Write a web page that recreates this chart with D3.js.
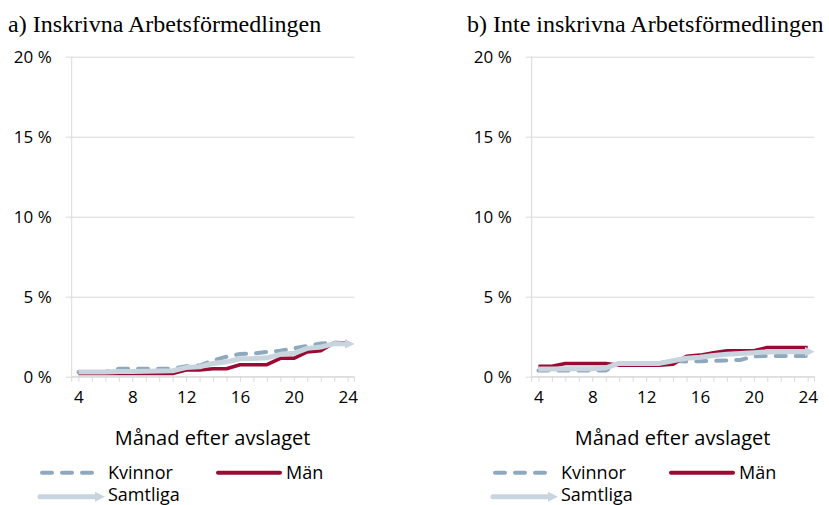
<!DOCTYPE html>
<html><head><meta charset="utf-8">
<script src="https://cdn.jsdelivr.net/npm/d3@7"></script>
<style>body{margin:0;background:#fff}svg{display:block}</style>
</head><body><svg id="c" width="829" height="505"></svg>
<script>
// ---- data ----
const months = [4,5,6,7,8,9,10,11,12,13,14,15,16,17,18,19,20,21,22,23,24];
const xTickLabels = [4,8,12,16,20,24];
const yTickValues = [0,5,10,15,20];
const panelTitles = ["a) Inskrivna Arbetsförmedlingen","b) Inte inskrivna Arbetsförmedlingen"];
const seriesNames = ["Kvinnor","Män","Samtliga"];
const xAxisTitle = "Månad efter avslaget";
// panel a (percent)
const aKvinnor  = [0.30,0.30,0.30,0.50,0.50,0.50,0.50,0.50,0.65,0.70,1.02,1.25,1.42,1.45,1.55,1.62,1.77,1.93,2.07,2.15,2.05];
const aMan      = [0.20,0.20,0.20,0.20,0.20,0.20,0.20,0.20,0.42,0.42,0.50,0.50,0.75,0.75,0.75,1.15,1.15,1.55,1.62,2.12,2.12];
const aSamtliga = [0.30,0.30,0.30,0.32,0.33,0.34,0.35,0.37,0.57,0.62,0.83,0.93,1.12,1.14,1.18,1.40,1.46,1.77,1.85,2.07,2.05];
// panel b (percent)
const bKvinnor  = [0.38,0.38,0.38,0.38,0.38,0.38,0.85,0.85,0.85,0.85,1.00,0.95,0.97,1.00,1.02,1.05,1.27,1.30,1.30,1.30,1.30];
const bMan      = [0.65,0.65,0.83,0.83,0.83,0.83,0.72,0.72,0.72,0.72,0.78,1.28,1.35,1.50,1.62,1.62,1.62,1.83,1.83,1.83,1.83];
const bSamtliga = [0.48,0.48,0.50,0.50,0.50,0.55,0.83,0.83,0.83,0.83,1.00,1.15,1.22,1.33,1.40,1.45,1.50,1.55,1.56,1.56,1.56];

const colors = {Kvinnor:"#8EA9BD", "Män":"#9A0B34", Samtliga:"#C8D5DF"};
const FONT = "'Open Sans', 'Noto Sans', sans-serif";

const svg = d3.select("#c");
const defs = svg.append("defs");
defs.append("marker").attr("id","arrow").attr("markerUnits","userSpaceOnUse")
  .attr("viewBox","0 0 10 10").attr("refX",3).attr("refY",5)
  .attr("markerWidth",10).attr("markerHeight",10).attr("orient","auto")
  .append("path").attr("d","M0,0 L10,5 L0,10 Z").attr("fill",colors.Samtliga);

const panels = [
  {left:71.7, titleX:8, data:{Kvinnor:aKvinnor, "Män":aMan, Samtliga:aSamtliga}, legendX:40},
  {left:531.7, titleX:467, data:{Kvinnor:bKvinnor, "Män":bMan, Samtliga:bSamtliga}, legendX:493}
];
const W = 282.7, plotTop = 56.7, plotBottom = 376.7;

panels.forEach((p, i) => {
  const g = svg.append("g");
  const x = d3.scalePoint().domain(months).range([p.left, p.left + W]).padding(0.5);
  const y = d3.scaleLinear().domain([0, 20]).range([plotBottom, plotTop]);

  g.append("text").attr("x", p.titleX).attr("y", 32)
    .attr("font-family","'Liberation Serif','Times New Roman',serif").attr("font-size",24)
    .attr("fill","#000").text(panelTitles[i]);

  // y axis with gridlines
  const ya = g.append("g").attr("transform",`translate(${p.left},0)`)
    .call(d3.axisLeft(y).tickValues(yTickValues).tickSize(-W).tickPadding(20)
      .tickFormat(d => d + " %"));
  ya.select(".domain").remove();
  ya.selectAll(".tick line").attr("x1",-6).attr("stroke","#D9D9D9");
  ya.selectAll(".tick text").attr("font-family",FONT).attr("font-size",17).attr("fill","#000").attr("dy","0.36em");
  g.append("line").attr("x1",p.left).attr("x2",p.left).attr("y1",plotTop).attr("y2",plotBottom+5)
    .attr("stroke","#D9D9D9");

  // x axis
  const xa = g.append("g").attr("transform",`translate(0,${plotBottom})`)
    .call(d3.axisBottom(x).tickValues(months).tickSize(5).tickSizeOuter(0).tickPadding(9)
      .tickFormat(d => xTickLabels.includes(d) ? d : ""));
  xa.select(".domain").remove();
  xa.selectAll(".tick line").attr("stroke","#D9D9D9");
  xa.selectAll(".tick text").attr("font-family",FONT).attr("font-size",17).attr("fill","#000");
  g.append("line").attr("x1",p.left).attr("x2",p.left+W).attr("y1",plotBottom).attr("y2",plotBottom).attr("stroke","#D9D9D9");
  g.append("line").attr("x1",p.left+W).attr("x2",p.left+W).attr("y1",plotBottom).attr("y2",plotBottom+5).attr("stroke","#D9D9D9");

  g.append("text").attr("x", p.left + W/2 - 0.5).attr("y", 445).attr("text-anchor","middle")
    .attr("font-family",FONT).attr("font-size",20).attr("fill","#000").text(xAxisTitle);

  const line = d3.line().x((d,j) => x(months[j])).y(d => y(d));
  // series
  g.append("path").datum(p.data.Kvinnor).attr("d",line).attr("fill","none")
    .attr("stroke",colors.Kvinnor).attr("stroke-width",4).attr("stroke-dasharray","10,10")
    .attr("stroke-linecap","round");
  g.append("path").datum(p.data["Män"]).attr("d",line).attr("fill","none")
    .attr("stroke",colors["Män"]).attr("stroke-width",3.5).attr("stroke-linejoin","round");
  g.append("path").datum(p.data.Samtliga).attr("d",line).attr("fill","none")
    .attr("stroke",colors.Samtliga).attr("stroke-width",5).attr("stroke-linejoin","round")
    .attr("marker-end","url(#arrow)");

  // legend
  const lx = p.legendX;
  const lg = g.append("g").attr("font-family",FONT).attr("font-size",18).attr("fill","#000");
  lg.append("line").attr("x1",lx+2).attr("x2",lx+62).attr("y1",472.7).attr("y2",472.7)
    .attr("stroke",colors.Kvinnor).attr("stroke-width",4).attr("stroke-dasharray","10,10").attr("stroke-linecap","round");
  lg.append("text").attr("x",lx+68).attr("y",479).text(seriesNames[0]);
  lg.append("line").attr("x1",lx+178).attr("x2",lx+240).attr("y1",472.7).attr("y2",472.7)
    .attr("stroke",colors["Män"]).attr("stroke-width",4).attr("stroke-linecap","round");
  lg.append("text").attr("x",lx+246).attr("y",479).text(seriesNames[1]);
  lg.append("line").attr("x1",lx).attr("x2",lx+58).attr("y1",496.7).attr("y2",496.7)
    .attr("stroke",colors.Samtliga).attr("stroke-width",5).attr("stroke-linecap","round")
    .attr("marker-end","url(#arrow)");
  lg.append("text").attr("x",lx+68).attr("y",501).text(seriesNames[2]);
});
</script></body></html>
